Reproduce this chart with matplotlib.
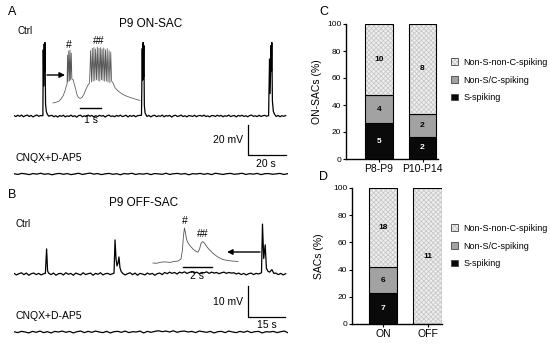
import numpy as np
import matplotlib
matplotlib.use('Agg')
import matplotlib.pyplot as plt
from matplotlib.patches import Patch, FancyArrowPatch

plt.rcParams['font.family'] = ['Liberation Sans', 'DejaVu Sans']
plt.rcParams['hatch.linewidth'] = 0.6

# ---- panel A: P9 ON-SAC, Ctrl trace (s, mV relative to rest) ----
ctrl_a_t = np.r_[np.arange(0, 15),
                 [15.2, 15.4, 15.6, 15.9, 16.1, 16.3, 16.6, 17.0, 17.6, 18.4, 19.2],
                 np.arange(20, 67),
                 [67.1, 67.5, 67.7, 67.95, 68.15, 68.35, 68.6, 69.0, 69.6],
                 np.arange(70, 134),
                 [134.0, 134.5, 134.8, 135.3, 135.5, 135.7, 136.0, 136.5, 137.2],
                 np.arange(138, 144)]
ctrl_a_v = np.r_[[0.3, -0.4, 0.5, -0.2, 0.6, -0.5, 0.2, 0.6, -0.3, 0.4, -0.6, 0.1, 0.7, -0.2, 0.3],
                 [0.2, 44, 20, 48, 30, 49, 8, 3, 1, -0.2, 0.3],
                 [0.4, -0.5, 0.2, -0.7, 0.3, -0.2, 0.5, -0.6, 0.1, -0.3,
                  0.6, -0.4, 0.2, -0.8, 0.3, 0.5, -0.5, 0.1, -0.3, 0.6,
                  -0.2, 0.4, -0.6, 0.2, -0.4, 0.5, -0.1, 0.3, -0.7, 0.2,
                  0.6, -0.3, 0.1, -0.5, 0.4, -0.2, 0.6, -0.4, 0.0, 0.5,
                  -0.6, 0.3, -0.2, 0.4, -0.5, 0.2, 0.4],
                 [0.5, 45, 24, 49, 26, 47, 7, 2, 0.5],
                 [-0.3, 0.4, -0.6, 0.2, 0.5, -0.4, 0.1, -0.2, 0.6, -0.5,
                  0.3, -0.1, 0.4, -0.7, 0.2, 0.5, -0.3, 0.0, 0.6, -0.4,
                  0.2, -0.6, 0.3, 0.1, -0.3, 0.5, -0.5, 0.2, 0.4, -0.2,
                  0.6, -0.4, 0.1, -0.6, 0.3, 0.2, -0.3, 0.5, -0.1, 0.4,
                  -0.5, 0.2, -0.2, 0.6, -0.4, 0.1, 0.3, -0.6, 0.4, -0.1,
                  0.5, -0.3, 0.2, -0.5, 0.3, 0.6, -0.2, 0.1, -0.4, 0.5,
                  -0.3, 0.2, 0.4, -0.2],
                 [0.3, 38, 15, 47, 30, 49, 10, 3, 1],
                 [-0.3, 0.4, -0.5, 0.2, -0.2, 0.3]]

# CNQX+D-AP5 trace, sampled every 2 s
cnqx_a_v = [0.2, -0.3, 0.4, 0.1, -0.4, 0.3, -0.1, 0.5, -0.2, 0.2,
            -0.5, 0.1, 0.4, -0.2, 0.3, -0.4, 0.0, 0.5, -0.3, 0.2,
            0.6, -0.1, 0.3, -0.4, 0.1, 0.4, -0.2, 0.2, -0.5, 0.3,
            0.0, 0.5, -0.3, 0.2, -0.1, 0.4, -0.4, 0.3, 0.1, -0.2,
            0.5, -0.3, 0.2, 0.4, -0.1, 0.3, -0.5, 0.2, 0.0, 0.4,
            -0.2, 0.3, -0.4, 0.5, 0.1, -0.3, 0.2, 0.4, -0.2, 0.1,
            0.5, -0.3, 0.2, -0.1, 0.4, -0.4, 0.2, 0.3, -0.2, 0.1,
            0.4, -0.3, 0.2]

# expanded event (inset), s and mV
inset_a_t = [0, 0.10, 0.19, 0.29, 0.38, 0.48, 0.57, 0.62, 0.67, 0.69, 0.71, 0.75, 0.78, 0.81,
             0.84, 0.87, 0.90, 0.95, 1.00, 1.05, 1.10, 1.14, 1.19, 1.29, 1.38, 1.48, 1.57, 1.67, 1.74,
             1.79, 1.83, 1.87, 1.91, 1.95, 1.99, 2.03, 2.07, 2.11, 2.15, 2.19, 2.23, 2.27, 2.31,
             2.34, 2.38, 2.42, 2.46, 2.50, 2.54, 2.58, 2.62, 2.67, 2.71, 2.75,
             2.79, 2.86, 2.95, 3.10, 3.29, 3.48, 3.67, 3.90, 4.14]
inset_a_v = [0, 0.3, 0.7, 1.3, 2.7, 4.7, 8.0, 10.7, 12.7, 32, 14, 34.7, 14.7, 35.3,
             15.3, 33.3, 16, 15.7, 13.3, 10.7, 8, 5.7, 4, 3, 3.7, 6, 9.3, 12, 13.3,
             35, 14, 36.5, 14.5, 37, 15, 36, 15.5, 37.3, 15, 36.5, 14.5, 37, 15.5,
             36, 15, 36.8, 14.5, 35.5, 14.5, 36.3, 14, 35, 13.5, 34,
             14.7, 13.3, 10.3, 8, 6, 4.7, 3.7, 2.7, 1.7]

# ---- panel B: P9 OFF-SAC ----
ctrl_b_t = np.r_[np.arange(0, 13),
                 [12.7, 13.2, 13.6, 14.0],
                 np.arange(15, 40),
                 [40.5, 40.9, 41.3, 41.7, 42.1, 42.5, 42.9, 43.4],
                 np.arange(44, 100),
                 [100.2, 100.6, 101.1, 101.7, 102.2, 102.8, 103.5, 104.4, 105.2],
                 np.arange(106, 111)]
ctrl_b_v = np.r_[[0.2, -0.3, 0.1, 0.4, -0.2, 0.3, -0.4, 0.1, 0.3, -0.2, 0.2, -0.3, 0.1],
                 [0.2, 8.1, 1.0, 0.3],
                 [-0.2, 0.3, -0.4, 0.1, 0.2, -0.3, 0.4, -0.1, 0.2, -0.4, 0.3, 0.0, -0.3,
                  0.4, -0.2, 0.1, 0.3, -0.4, 0.2, -0.1, 0.4, -0.3, 0.1, 0.2, -0.2],
                 [0.3, 11, 5, 2.6, 3.5, 5.5, 2, 0.8],
                 [0.2, -0.3, 0.1, 0.4, -0.2, 0.3, -0.4, 0.2, 0.0, -0.3,
                  0.3, -0.1, 0.2, -0.4, 0.1, 0.3, -0.2, 0.5, 0.1, 0.6,
                  0.2, 0.5, 0.0, 0.6, 0.3, 0.7, 0.2, 0.5, 0.8, 0.3,
                  0.6, 0.1, 0.5, 0.4, 0.7, 0.2, 0.6, 0.3, 0.5, 0.1,
                  0.4, 0.6, 0.2, 0.5, 0.3, 0.4, 0.0, 0.3, -0.2, 0.2,
                  -0.3, 0.1, 0.3, -0.2, 0.2, 0.0],
                 [0.4, 16.1, 5, 9.4, 1.8, 0.9, 0.6, 1.4, 0.2],
                 [0.3, -0.2, 0.2, -0.3, 0.1]]

# CNQX+D-AP5 trace, sampled every 1.5 s
cnqx_b_v = [0.1, -0.2, 0.2, 0.0, -0.3, 0.2, -0.1, 0.3, -0.2, 0.1,
            -0.3, 0.2, 0.0, 0.3, -0.1, 0.2, -0.3, 0.1, 0.3, -0.2,
            0.2, -0.1, 0.3, 0.0, -0.2, 0.2, -0.3, 0.1, 0.2, -0.1,
            0.3, -0.2, 0.1, 0.0, 0.3, -0.3, 0.2, -0.1, 0.2, 0.4,
            0.1, 0.3, 0.0, 0.4, -0.1, 0.2, 0.3, 0.0, 0.2, -0.2,
            0.3, 0.1, -0.1, 0.2, -0.3, 0.1, 0.2, -0.2, 0.3, 0.0,
            -0.2, 0.2, -0.1, 0.3, -0.2, 0.1, 0.2, -0.3, 0.1, 0.0,
            0.2, -0.2, 0.1, 0.3, -0.3]

inset_b_t = [0, 0.24, 0.48, 0.72, 0.97, 1.2, 1.45, 1.72, 1.93, 2.03, 2.10, 2.17, 2.24, 2.31,
             2.41, 2.55, 2.76, 2.97, 3.10, 3.21, 3.31, 3.41, 3.52, 3.66, 3.86, 4.14, 4.48,
             4.83, 5.17, 5.52, 5.86]
inset_b_v = [0, -0.1, 0.2, 0.35, 0.3, 0.2, 0.5, 0.6, 1.3, 4.2, 8.7, 11.3, 9.7, 7.7,
             6.5, 5.6, 4.5, 3.7, 3.5, 4.5, 6.3, 6.9, 6.6, 5.6, 4.4, 3.1, 1.9,
             1.1, 0.8, 0.6, 0.5]

# ---- panels C/D: cell counts ----
groups_c = ['P8-P9', 'P10-P14']
s_spiking_c = [5, 2]
non_sc_c = [4, 2]
non_s_non_c_c = [10, 8]

groups_d = ['ON', 'OFF']
s_spiking_d = [7, 0]
non_sc_d = [6, 0]
non_s_non_c_d = [18, 11]

legend_labels = ['Non-S-non-C-spiking', 'Non-S/C-spiking', 'S-spiking']

W, H = 550, 345
fig = plt.figure(figsize=(5.5, 3.45), dpi=100)


def px_axes(x0, y0, x1, y1):
    return fig.add_axes([x0 / W, 1 - y1 / H, (x1 - x0) / W, (y1 - y0) / H])


def ftext(x, y, s, ha='left', size=7.5, **kw):
    fig.text(x / W, 1 - y / H, s, ha=ha, va='center', fontsize=size, **kw)


def arrow(x0, x1, y):
    fig.add_artist(FancyArrowPatch((x0 / W, 1 - y / H), (x1 / W, 1 - y / H),
                                   transform=fig.transFigure, arrowstyle='-|>',
                                   mutation_scale=8, lw=1.0, color='black',
                                   shrinkA=0, shrinkB=0))


# ---------------- A ----------------
axA = px_axes(14, 30, 288, 180)
axA.axis('off')
axA.set_xlim(0, 274 / 1.9)
axA.set_ylim(-64 / 1.5, 86 / 1.5)
axA.plot(ctrl_a_t, ctrl_a_v, color='black', lw=0.9)
axA.plot(np.arange(len(cnqx_a_v)) * 2.0, np.array(cnqx_a_v) - 58 / 1.5, color='black', lw=0.9)
t0 = 234 / 1.9
axA.plot([t0, t0, t0 + 20], [-6, -26, -26], color='black', lw=0.9)

axAi = px_axes(50, 40, 145, 125)
axAi.axis('off')
axAi.set_xlim(-3 / 21, 92 / 21)
axAi.set_ylim(-22 / 1.5, 63 / 1.5)
axAi.plot(inset_a_t, inset_a_v, color='#555555', lw=0.55)
axAi.plot([1.29, 2.29], [-3.3, -3.3], color='black', lw=1.0)
arrow(47, 65, 75)

ftext(8, 12, 'A', size=9)
ftext(151, 24, 'P9 ON-SAC', ha='center', size=8.5)
ftext(18, 31, 'Ctrl', size=7)
ftext(69, 45, '#', ha='center', size=7.5)
ftext(99, 41, '##', ha='center', size=7.5)
ftext(91, 120, '1 s', ha='center', size=7.5)
ftext(243, 140, '20 mV', ha='right', size=7.5)
ftext(266, 164, '20 s', ha='center', size=7.5)
ftext(15, 158, 'CNQX+D-AP5', size=7.5)

# ---------------- B ----------------
axB = px_axes(14, 190, 288, 340)
axB.axis('off')
axB.set_xlim(0, 274 / 2.47)
axB.set_ylim(-66 / 3.1, 84 / 3.1)
axB.plot(ctrl_b_t, ctrl_b_v, color='black', lw=0.9)
axB.plot(np.arange(len(cnqx_b_v)) * 1.5, np.array(cnqx_b_v) - 58 / 3.1, color='black', lw=0.9)
t0 = 234 / 2.47
axB.plot([t0, t0, t0 + 15], [-12 / 3.1, -12 / 3.1 - 10, -12 / 3.1 - 10], color='black', lw=0.9)

axBi = px_axes(150, 215, 242, 285)
axBi.axis('off')
axBi.set_xlim(-3 / 14.5, 89 / 14.5)
axBi.set_ylim(-22 / 3.1, 48 / 3.1)
axBi.plot(inset_b_t, inset_b_v, color='#555555', lw=0.6)
axBi.plot([2.07, 4.07], [-1.3, -1.3], color='black', lw=1.0)
arrow(260, 227, 252)

ftext(8, 195, 'B', size=9)
ftext(144, 203, 'P9 OFF-SAC', ha='center', size=8.5)
ftext(15, 224, 'Ctrl', size=7)
ftext(185, 221, '#', ha='center', size=7.5)
ftext(203, 234, '##', ha='center', size=7.5)
ftext(197, 276, '2 s', ha='center', size=7.5)
ftext(243, 302, '10 mV', ha='right', size=7.5)
ftext(267, 325, '15 s', ha='center', size=7.5)
ftext(15, 316, 'CNQX+D-AP5', size=7.5)

# ---------------- C / D ----------------
black_c, gray_c, light_c = '#0a0a0a', '#a2a2a2', '#efefef'
hatch_c = '#c8c8c8'


def stacked(ax, groups, s, nsc, nn, ylabel, xl):
    s, nsc, nn = np.array(s), np.array(nsc), np.array(nn)
    tot = s + nsc + nn
    ps, pc, pn = 100 * s / tot, 100 * nsc / tot, 100 * nn / tot
    x = np.arange(len(groups))
    w = 0.64
    ax.bar(x, ps, w, color=black_c, edgecolor='black', lw=0.8)
    ax.bar(x, pc, w, bottom=ps, color=gray_c, edgecolor='black', lw=0.8)
    ax.bar(x, pn, w, bottom=ps + pc, color=light_c, hatch='xxxxxxx', edgecolor=hatch_c, lw=0)
    ax.bar(x, pn, w, bottom=ps + pc, fill=False, edgecolor='black', lw=0.8)
    for i in range(len(groups)):
        for cnt, b, h, col in [(s[i], 0, ps[i], 'white'), (nsc[i], ps[i], pc[i], 'black'),
                               (nn[i], ps[i] + pc[i], pn[i], 'black')]:
            if cnt > 0:
                ax.text(x[i], b + h / 2, str(cnt), ha='center', va='center',
                        fontsize=6, fontweight='bold', color=col)
    ax.set_xlim(*xl)
    ax.set_ylim(0, 100)
    ax.set_yticks(range(0, 101, 20))
    ax.set_xticks(x)
    ax.set_xticklabels(groups, fontsize=7.5)
    ax.spines['top'].set_visible(False)
    ax.spines['right'].set_visible(False)
    for sp in ['left', 'bottom']:
        ax.spines[sp].set_linewidth(1.0)
    ax.tick_params(axis='y', labelsize=6, length=2.5, width=0.8, pad=1)
    ax.tick_params(axis='x', length=2, width=0.8, pad=1.5)
    ax.set_ylabel(ylabel, fontsize=7.5)
    ax.patch.set_alpha(0)


axC = px_axes(346, 24, 438, 159)
stacked(axC, groups_c, s_spiking_c, non_sc_c, non_s_non_c_c, 'ON-SACs (%)',
        (-33 / 43.5, 1 + 15.5 / 43.5))
axC.yaxis.set_label_coords(-24 / 92, 0.5)

axD = px_axes(352, 188, 442, 324)
stacked(axD, groups_d, s_spiking_d, non_sc_d, non_s_non_c_d, 'SACs (%)',
        (-31 / 44.5, 1 + 14.5 / 44.5))
axD.yaxis.set_label_coords(-28 / 90, 0.5)

ftext(319, 12, 'C', size=9)
ftext(319, 177, 'D', size=9)

handles = [(Patch(facecolor=light_c, hatch='xxxxxxx', edgecolor=hatch_c, lw=0),
            Patch(fill=False, edgecolor='#444444', lw=0.6)),
           Patch(facecolor=gray_c, edgecolor='#444444', lw=0.6),
           Patch(facecolor=black_c, edgecolor='#444444', lw=0.6)]
for ytop in (58, 224):
    fig.legend(handles, legend_labels, loc='upper left',
               bbox_to_anchor=(451 / W, 1 - ytop / H), frameon=False, fontsize=6.5,
               handlelength=0.8, handleheight=0.8, handletextpad=0.6,
               labelspacing=0.95, borderpad=0, borderaxespad=0)

fig.savefig('out.png', dpi=100)
